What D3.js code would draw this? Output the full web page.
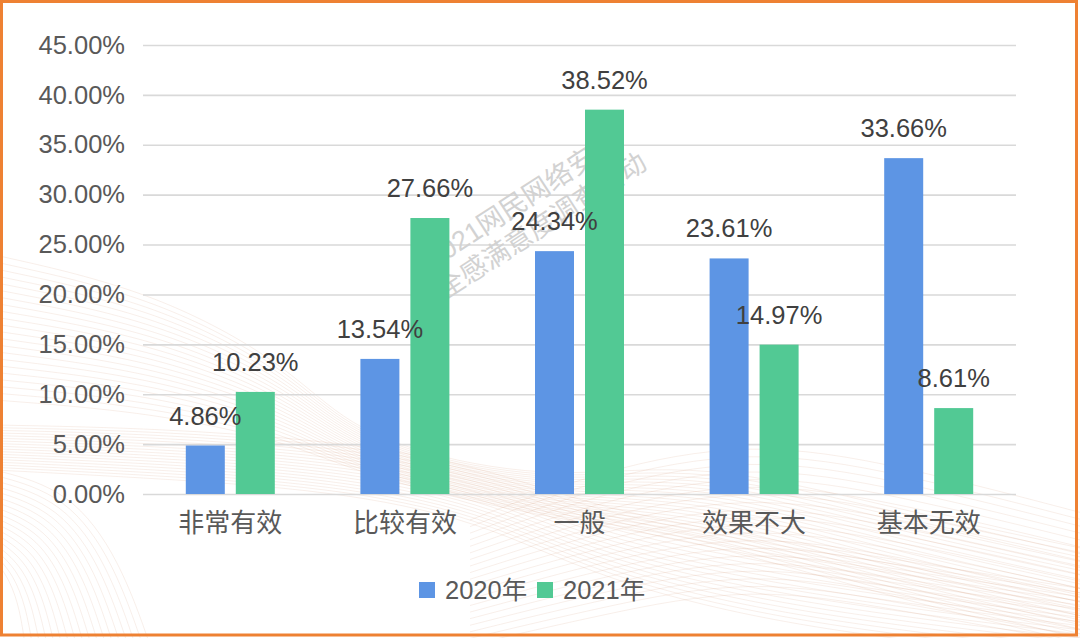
<!DOCTYPE html>
<html><head><meta charset="utf-8">
<script src="https://cdn.jsdelivr.net/npm/d3@7"></script>
<style>html,body{margin:0;padding:0;background:#fff;}svg{display:block;}</style>
</head><body>
<script>
const categories = ['非常有效','比较有效','一般','效果不大','基本无效'];
const seriesNames = ['2020年','2021年'];
const values2020 = [4.86, 13.54, 24.34, 23.61, 33.66];
const values2021 = [10.23, 27.66, 38.52, 14.97, 8.61];
const yTickValues = [0, 5, 10, 15, 20, 25, 30, 35, 40, 45];
const seriesColors = ['#5D95E4', '#52C994'];
const watermarkLines = ['2021网民网络安', '全感满意度调查活动'];

const W = 1080, H = 638;
const font = "'Liberation Sans','Noto Sans CJK SC',sans-serif";
const svg = d3.select('body').append('svg').attr('width', W).attr('height', H);
svg.append('rect').attr('width', W).attr('height', H).attr('fill', '#fff');

// decorative background waves
const deco = svg.append('g').attr('fill', 'none').attr('stroke', 'rgb(214,160,130)').attr('stroke-opacity', 0.28).attr('stroke-width', 0.6);
const line = d3.line().curve(d3.curveBasis);
function family(n, a, b) {
  for (let i = 0; i < n; i++) {
    const t = i / (n - 1);
    const pts = a.map((p, k) => [p[0] + (b[k][0] - p[0]) * t, p[1] + (b[k][1] - p[1]) * t]);
    deco.append('path').attr('d', line(pts));
  }
}
family(22, [[-5,255],[150,290],[280,360],[340,420],[420,455],[560,480],[700,460],[900,510],[1090,550]],
           [[-5,400],[150,412],[280,440],[340,465],[420,490],[560,520],[700,540],[900,600],[1090,645]]);
family(18, [[-5,425],[150,428],[330,440],[480,465],[600,510],[800,545],[1090,590]],
           [[-5,470],[150,478],[330,490],[480,520],[600,580],[800,630],[1090,660]]);
family(18, [[-5,470],[70,490],[120,560],[150,645]],
           [[-5,560],[10,580],[20,610],[25,645]]);
family(20, [[470,520],[600,470],[750,440],[900,465],[1090,515]],
           [[470,645],[600,615],[750,585],[900,610],[1090,645]]);

const x0 = d3.scaleBand().domain(categories).range([143, 1016]).paddingInner(0).paddingOuter(0);
const bw = x0.bandwidth();
const x1 = d3.scaleBand().domain(seriesNames).range([bw / 2 - 44.5, bw / 2 + 44.5]).paddingInner(0.22).paddingOuter(0);
const y = d3.scaleLinear().domain([0, 45]).range([494, 45]);

// gridlines
const yAxis = d3.axisLeft(y).tickValues(yTickValues).tickSize(-(1016 - 143)).tickFormat(d => d.toFixed(2) + '%').tickPadding(18);
const ga = svg.append('g').attr('transform', 'translate(143,0)').call(yAxis);
ga.select('.domain').remove();
ga.selectAll('.tick line').attr('stroke', '#d9d9d9').attr('stroke-width', 1.6);
ga.selectAll('.tick text').attr('fill', '#595959').style('font-family', font).style('font-size', '25.5px');

// watermark
const wm = svg.append('g').attr('transform', 'translate(440,292) rotate(-33)');
wm.selectAll('text').data(watermarkLines).join('text')
  .attr('x', (d, i) => i === 0 ? 8 : 0).attr('y', (d, i) => i === 0 ? -32 : 0)
  .attr('text-anchor', 'start').attr('dominant-baseline', 'central')
  .attr('fill', '#d2d2d2').style('font-family', font).style('font-size', '27px')
  .text(d => d);

// bars
const rows = categories.map((c, i) => ({cat: c, vals: [values2020[i], values2021[i]]}));
const groups = svg.append('g').selectAll('g').data(rows).join('g')
  .attr('transform', d => `translate(${x0(d.cat)},0)`);
groups.selectAll('rect').data(d => d.vals.map((v, k) => ({s: seriesNames[k], v, k}))).join('rect')
  .attr('x', d => x1(d.s)).attr('width', x1.bandwidth())
  .attr('y', d => y(d.v)).attr('height', d => y(0) - y(d.v))
  .attr('fill', d => seriesColors[d.k]);
groups.selectAll('text').data(d => d.vals.map((v, k) => ({s: seriesNames[k], v, k}))).join('text')
  .attr('x', d => x1(d.s) + x1.bandwidth() / 2)
  .attr('y', d => y(d.v) - 21)
  .attr('text-anchor', 'middle').attr('fill', '#404040')
  .style('font-family', font).style('font-size', '25.5px')
  .text(d => d.v.toFixed(2) + '%');

// x axis labels
const xAxis = d3.axisBottom(x0).tickSize(0).tickPadding(20);
const gx = svg.append('g').attr('transform', 'translate(0,494)').call(xAxis);
gx.select('.domain').remove();
gx.selectAll('.tick text').attr('fill', '#595959').style('font-family', font).style('font-size', '26px');

// legend
const legendX = [419, 537];
const lg = svg.append('g');
seriesNames.forEach((s, k) => {
  lg.append('rect').attr('x', legendX[k]).attr('y', 582).attr('width', 16).attr('height', 16).attr('fill', seriesColors[k]);
  lg.append('text').attr('x', legendX[k] + 26).attr('y', 599).attr('fill', '#595959')
    .style('font-family', font).style('font-size', '25.5px').text(s);
});

// border
svg.append('rect').attr('x', 1.5).attr('y', 1.5).attr('width', 1075).attr('height', 633.5)
  .attr('fill', 'none').attr('stroke', '#EE8133').attr('stroke-width', 3);
</script>
</body></html>
